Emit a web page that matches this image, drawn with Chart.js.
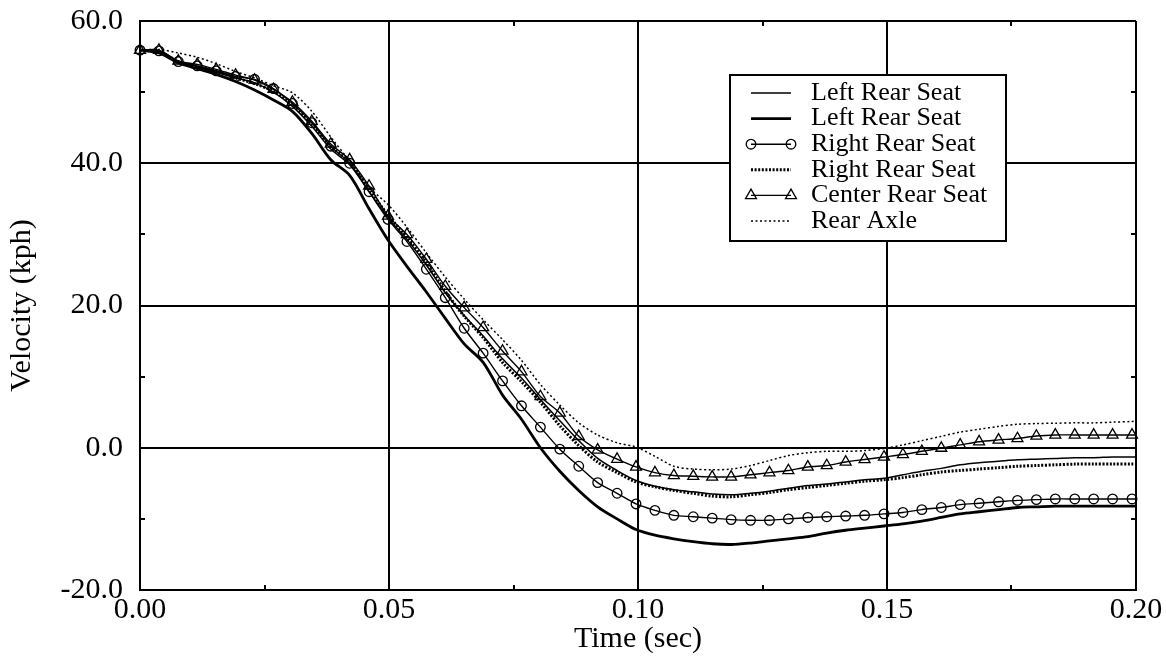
<!DOCTYPE html>
<html>
<head>
<meta charset="utf-8">
<script src="https://cdn.jsdelivr.net/npm/chart.js@4.4.0/dist/chart.umd.min.js"></script>
<style>
  html, body { margin: 0; padding: 0; background: #fff; }
  #wrap { width: 1166px; height: 657px; }
</style>
</head>
<body>
<div id="wrap"><canvas id="velocityChart" width="1166" height="657"></canvas></div>
<script>
// Data (time in sec, velocity in kph)
const times = [0, 0.0038, 0.0077, 0.0115, 0.0153, 0.0192, 0.0230, 0.0268, 0.0306, 0.0345,
  0.0383, 0.0421, 0.0460, 0.0498, 0.0536, 0.0575, 0.0613, 0.0651, 0.0689, 0.0728,
  0.0766, 0.0804, 0.0843, 0.0881, 0.0919, 0.0958, 0.0996, 0.1034, 0.1072, 0.1111,
  0.1149, 0.1187, 0.1226, 0.1264, 0.1302, 0.1341, 0.1379, 0.1417, 0.1455, 0.1494,
  0.1532, 0.1570, 0.1609, 0.1647, 0.1685, 0.1724, 0.1762, 0.1800, 0.1838, 0.1877,
  0.1915, 0.1953, 0.1992, 0.2000];

const leftRearThin = [55.9, 55.7, 54.2, 53.6, 52.8, 52.0, 51.3, 50.0, 48.0, 45.2,
  42.0, 39.8, 36.0, 32.3, 29.3, 25.7, 21.8, 18.6, 15.7, 12.5,
  9.8, 6.8, 3.8, 1.0, -1.5, -3.2, -4.6, -5.4, -5.9, -6.2,
  -6.5, -6.6, -6.4, -6.1, -5.7, -5.3, -5.1, -4.8, -4.5, -4.3,
  -3.8, -3.3, -2.9, -2.4, -2.1, -1.9, -1.7, -1.6, -1.5, -1.4,
  -1.4, -1.3, -1.3, -1.3];

const leftRearThick = [55.9, 55.5, 54.1, 53.3, 52.5, 51.5, 50.3, 48.9, 47.3, 44.2,
  40.5, 38.3, 33.6, 29.2, 25.5, 21.9, 18.2, 14.6, 12.0, 7.4,
  4.0, 0.0, -3.3, -6.0, -8.3, -10.0, -11.5, -12.3, -12.8, -13.2,
  -13.5, -13.6, -13.4, -13.1, -12.8, -12.5, -12.0, -11.6, -11.3, -11.0,
  -10.7, -10.3, -9.8, -9.3, -9.0, -8.7, -8.4, -8.3, -8.2, -8.2,
  -8.2, -8.2, -8.2, -8.2];

const rightRearCircles = [55.9, 55.8, 54.3, 53.7, 53.0, 52.2, 51.8, 50.5, 48.4, 45.7,
  42.4, 40.0, 36.0, 32.1, 29.0, 25.1, 21.1, 16.8, 13.3, 9.4,
  5.9, 2.9, -0.2, -2.6, -4.9, -6.4, -7.9, -8.8, -9.5, -9.7,
  -9.9, -10.1, -10.2, -10.2, -10.0, -9.8, -9.7, -9.6, -9.5, -9.3,
  -9.1, -8.7, -8.4, -8.0, -7.8, -7.6, -7.4, -7.3, -7.2, -7.2,
  -7.2, -7.2, -7.2, -7.2];

const rightRearDotted = [55.9, 55.7, 54.3, 53.6, 52.9, 52.0, 51.2, 50.1, 48.2, 45.5,
  42.3, 40.2, 36.3, 32.7, 29.6, 26.0, 22.0, 18.5, 15.5, 12.0,
  9.3, 6.4, 3.1, 0.3, -2.0, -3.5, -4.8, -5.5, -6.0, -6.4,
  -6.8, -6.9, -6.6, -6.3, -5.9, -5.6, -5.3, -5.0, -4.7, -4.5,
  -4.2, -3.8, -3.4, -3.2, -3.0, -2.8, -2.6, -2.5, -2.4, -2.3,
  -2.3, -2.3, -2.3, -2.3];

const centerRear = [55.9, 55.9, 54.4, 53.9, 53.2, 52.4, 51.7, 50.4, 48.6, 45.9,
  42.7, 40.5, 36.8, 32.6, 30.0, 26.5, 22.7, 19.7, 16.9, 13.6,
  10.7, 7.2, 4.9, 1.6, -0.3, -1.6, -2.7, -3.5, -3.9, -4.0,
  -4.1, -4.1, -3.8, -3.5, -3.2, -2.7, -2.5, -2.0, -1.65, -1.3,
  -0.95, -0.5, -0.05, 0.4, 0.85, 1.1, 1.3, 1.65, 1.8, 1.8,
  1.8, 1.8, 1.8, 1.8];

const rearAxle = [55.9, 56.0, 55.5, 54.9, 54.0, 52.9, 52.0, 50.9, 49.9, 47.3,
  43.7, 40.3, 36.6, 34.2, 31.0, 27.4, 24.0, 20.9, 18.0, 15.2,
  12.3, 8.9, 6.0, 3.5, 1.8, 0.7, 0.1, -1.2, -2.6, -3.0,
  -3.1, -3.0, -2.5, -1.8, -1.1, -0.7, -0.5, -0.5, -0.4, -0.1,
  0.4, 1.0, 1.6, 2.2, 2.6, 3.0, 3.3, 3.4, 3.45, 3.5,
  3.5, 3.6, 3.7, 3.8];

const labels = ['Left Rear Seat', 'Left Rear Seat', 'Right Rear Seat',
  'Right Rear Seat', 'Center Rear Seat', 'Rear Axle'];

// minor tick positions (inward marks on the frame)
const minorTimes = [0.025, 0.075, 0.125, 0.175];
const minorVelocities = [-10, 10, 30, 50];

const serif = '"Liberation Serif", "Times New Roman", Times, serif';

const toPoints = values => times.map((t, i) => ({ x: t, y: values[i] }));
// markers on every sample except the closing one at 0.20
const markerRadius = r => ctx => (ctx.dataIndex < times.length - 1 ? r : 0);

const datasets = [
    { label: labels[0], data: toPoints(leftRearThin), borderWidth: 1.5 },
    { label: labels[1], data: toPoints(leftRearThick), borderWidth: 2.8 },
    { label: labels[2], data: toPoints(rightRearCircles), borderWidth: 1.4,
      pointStyle: 'circle', pointRadius: markerRadius(4.8), marker: 'circle' },
    { label: labels[3], data: toPoints(rightRearDotted), borderWidth: 3, borderDash: [2, 1.6] },
    { label: labels[4], data: toPoints(centerRear), borderWidth: 1.4,
      pointStyle: 'triangle', pointRadius: markerRadius(6.3), marker: 'triangle' },
    { label: labels[5], data: toPoints(rearAxle), borderWidth: 1.5, borderDash: [2, 2.5] }
].map(ds => Object.assign({
    borderColor: '#000',
    backgroundColor: 'rgba(0,0,0,0)',
    pointRadius: 0,
    pointBorderColor: '#000',
    pointBackgroundColor: 'rgba(0,0,0,0)',
    pointBorderWidth: 1.3,
    tension: 0.3,
    fill: false,
    clip: false
}, ds));

function drawMarker(ctx, type, x, y) {
    ctx.beginPath();
    if (type === 'circle') {
        ctx.arc(x, y, 4.8, 0, Math.PI * 2);
    } else {
        const r = 6.3;
        ctx.moveTo(x, y - r);
        ctx.lineTo(x + r * 0.866, y + r / 2);
        ctx.lineTo(x - r * 0.866, y + r / 2);
        ctx.closePath();
    }
    ctx.stroke();
}

// Legend box drawn inside the plot
const legendBox = {
    id: 'legendBox',
    afterDatasetsDraw(chart) {
        const ctx = chart.ctx;
        ctx.save();
        ctx.fillStyle = '#fff';
        ctx.fillRect(730, 75, 276, 166);
        ctx.strokeStyle = '#000';
        ctx.lineWidth = 2;
        ctx.strokeRect(730, 75, 276, 166);
        ctx.font = '26px ' + serif;
        ctx.textBaseline = 'middle';
        chart.data.datasets.forEach((ds, i) => {
            const y = 93 + i * 25.6;
            ctx.lineWidth = ds.borderWidth;
            ctx.setLineDash(ds.borderDash || []);
            ctx.beginPath();
            ctx.moveTo(751, y);
            ctx.lineTo(791, y);
            ctx.stroke();
            ctx.setLineDash([]);
            if (ds.marker) {
                ctx.lineWidth = 1.3;
                drawMarker(ctx, ds.marker, 751, y);
                drawMarker(ctx, ds.marker, 791, y);
            }
            ctx.fillStyle = '#000';
            ctx.fillText(ds.label, 811, y);
        });
        ctx.restore();
    }
};

// small inward ticks at the half-way positions
const minorTicks = {
    id: 'minorTicks',
    afterDraw(chart) {
        const { ctx, chartArea: a, scales: { x, y } } = chart;
        ctx.save();
        ctx.strokeStyle = '#000';
        ctx.lineWidth = 2;
        ctx.beginPath();
        minorTimes.forEach(t => {
            const px = Math.round(x.getPixelForValue(t));
            ctx.moveTo(px, a.bottom); ctx.lineTo(px, a.bottom - 5);
            ctx.moveTo(px, a.top); ctx.lineTo(px, a.top + 5);
        });
        minorVelocities.forEach(v => {
            const py = Math.round(y.getPixelForValue(v));
            ctx.moveTo(a.left, py); ctx.lineTo(a.left + 5, py);
            ctx.moveTo(a.right, py); ctx.lineTo(a.right - 5, py);
        });
        ctx.stroke();
        ctx.restore();
    }
};

new Chart(document.getElementById('velocityChart').getContext('2d'), {
    type: 'line',
    data: { datasets },
    options: {
        responsive: false,
        animation: false,
        devicePixelRatio: 1,
        layout: { padding: { top: 21, right: 30, bottom: 0, left: 0 } },
        plugins: { legend: { display: false }, tooltip: { enabled: false } },
        scales: {
            x: {
                type: 'linear',
                min: 0,
                max: 0.2,
                afterFit: scale => { scale.height = 67; },
                grid: { color: '#000', lineWidth: 2, drawTicks: false },
                border: { display: true, color: '#000', width: 2 },
                ticks: {
                    stepSize: 0.05,
                    autoSkip: false,
                    maxRotation: 0,
                    padding: 2,
                    color: '#000',
                    font: { family: serif, size: 30 },
                    callback: v => v.toFixed(2)
                },
                title: {
                    display: true,
                    text: 'Time (sec)',
                    color: '#000',
                    font: { family: serif, size: 30 },
                    padding: { top: 0, bottom: 0 }
                }
            },
            y: {
                min: -20,
                max: 60,
                afterFit: scale => {
                    scale.width = 140;
                    scale.paddingTop = 0;
                    scale.paddingBottom = 0;
                },
                grid: { color: '#000', lineWidth: 2, drawTicks: false },
                border: { display: true, color: '#000', width: 2 },
                ticks: {
                    stepSize: 20,
                    padding: 17,
                    color: '#000',
                    font: { family: serif, size: 30 },
                    callback: v => v.toFixed(1)
                },
                title: {
                    display: true,
                    text: 'Velocity (kph)',
                    color: '#000',
                    font: { family: serif, size: 30 },
                    padding: { top: 4, bottom: 0 }
                }
            }
        }
    },
    plugins: [legendBox, minorTicks]
});
</script>
</body>
</html>
